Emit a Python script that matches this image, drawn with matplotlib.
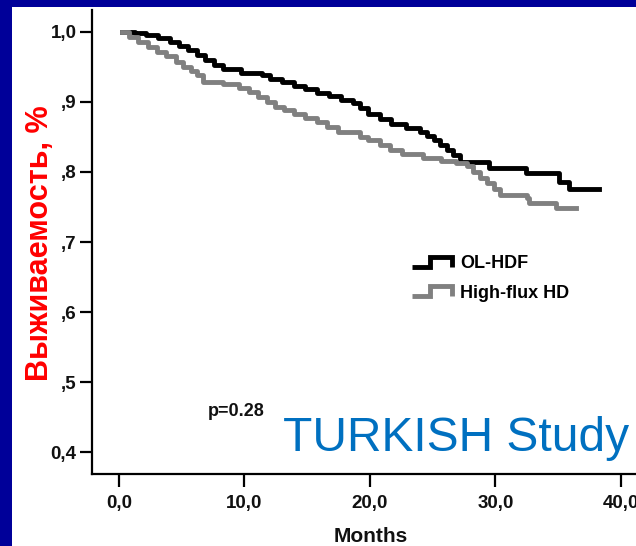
import matplotlib
matplotlib.use('Agg')
import matplotlib.pyplot as plt
from matplotlib.patches import Rectangle
from matplotlib.lines import Line2D
from matplotlib.legend_handler import HandlerBase

# Kaplan-Meier steps (months, survival)
hdf_t = [0.22, 1.25, 2.19, 3.13, 4.06, 4.81, 5.47, 6.22, 6.88, 7.54, 8.29, 9.70, 11.38, 12.04,
         12.98, 13.92, 14.86, 15.80, 16.73, 17.67, 18.61, 19.18, 19.83, 20.77, 21.71, 22.84,
         23.96, 24.52, 25.09, 25.56, 26.12, 26.59, 27.15, 29.50, 32.41, 35.04, 35.88, 38.23]
hdf_s = [1.0, .998, .995, .991, .986, .980, .974, .967, .960, .953, .947, .942, .938, .933,
         .928, .923, .918, .913, .908, .903, .898, .891, .883, .876, .869, .863,
         .857, .851, .845, .838, .831, .824, .814, .806, .799, .786, .776, .776]

hd_t = [0.22, 0.78, 1.53, 2.28, 3.03, 3.78, 4.53, 5.10, 5.75, 6.22, 6.69, 8.29, 9.60, 10.35,
        11.10, 11.76, 12.42, 13.17, 13.92, 14.86, 15.80, 16.55, 17.49, 19.18, 19.83, 20.77,
        21.62, 22.55, 24.24, 25.65, 26.87, 27.72, 28.19, 28.75, 29.31, 29.88, 30.34, 32.50,
        32.69, 34.85, 36.45]
hd_s = [1.0, .993, .985, .978, .972, .965, .957, .950, .944, .938, .929, .926, .920, .914,
        .907, .900, .893, .888, .883, .877, .871, .864, .857, .850, .845, .838,
        .832, .826, .820, .816, .813, .808, .800, .792, .784, .775, .767, .763,
        .756, .749, .749]

labels = ['OL-HDF', 'High-flux HD']
x_ticks = [0, 10, 20, 30, 40]
x_ticklabels = ['0,0', '10,0', '20,0', '30,0', '40,0']
y_ticks = [0.4, 0.5, 0.6, 0.7, 0.8, 0.9, 1.0]
y_ticklabels = ['0,4', ',5', ',6', ',7', ',8', ',9', '1,0']

plt.rcParams['font.family'] = ['Liberation Sans', 'DejaVu Sans']


class StepHandler(HandlerBase):
    def create_artists(self, legend, orig_handle, xdescent, ydescent, width, height, fontsize, trans):
        xs = [-xdescent + width * f for f in (0, 0.45, 0.45, 1.0, 1.0)]
        ys = [-ydescent + height * f for f in (0.1, 0.1, 0.9, 0.9, 0.1)]
        ln = Line2D(xs, ys, color=orig_handle.get_color(), lw=orig_handle.get_linewidth(),
                    solid_joinstyle='miter', solid_capstyle='butt')
        ln.set_transform(trans)
        return [ln]


W, H = 636, 546
fig = plt.figure(figsize=(W / 100, H / 100), dpi=100, facecolor='#000099')
fig.patches.append(Rectangle((12 / W, 0), 1, 1 - 7 / H, transform=fig.transFigure,
                             facecolor='white', edgecolor='none', zorder=-10))

ax = fig.add_axes([92 / W, 72 / H, (W - 92) / W, 464 / H])
ax.patch.set_alpha(0)

l1, = ax.step(hdf_t, hdf_s, where='post', color='black', lw=3.5, label=labels[0])
l2, = ax.step(hd_t, hd_s, where='post', color='#808080', lw=3.5, label=labels[1])

ax.set_xlim(-2.15, 41.2)
ax.set_ylim(0.3686, 1.0314)
ax.set_xticks(x_ticks)
ax.set_xticklabels(x_ticklabels)
ax.set_yticks(y_ticks)
ax.set_yticklabels(y_ticklabels)
for s in ['top', 'right']:
    ax.spines[s].set_visible(False)
for s in ['left', 'bottom']:
    ax.spines[s].set_linewidth(1.6)
ax.tick_params(axis='both', direction='out', length=9, width=1.6, labelsize=13.5)
ax.tick_params(axis='x', pad=6)
ax.tick_params(axis='y', pad=2)
for t in ax.get_xticklabels() + ax.get_yticklabels():
    t.set_fontweight('bold')
    t.set_color('#111111')
    t.set_clip_on(False)

leg = ax.legend(handles=[l1, l2], handler_map={Line2D: StepHandler()},
                loc='upper left', bbox_to_anchor=(412 / W, 1 - 255 / H),
                bbox_transform=fig.transFigure, frameon=False, borderpad=0,
                borderaxespad=0, handlelength=2.2, handletextpad=0.45,
                labelspacing=0.7, prop={'weight': 'bold', 'size': 13})

fig.text(40 / W, 1 - 243 / H, 'Выживаемость, %', rotation=90, color='#ff0000',
         fontsize=22, fontweight='bold', ha='center', va='center')
fig.text(371 / W, 4 / H, 'Months', fontsize=15, fontweight='bold', ha='center',
         va='baseline', color='#111111')
fig.text(208 / W, 1 - 411 / H, 'p=0.28', fontsize=13, fontweight='bold', ha='left',
         va='center', color='#111111')
fig.text(283 / W, 1 - 451 / H, 'TURKISH Study', fontsize=34.5, color='#0070c0',
         ha='left', va='baseline')

fig.savefig('out.png', dpi=100, facecolor=fig.get_facecolor())
